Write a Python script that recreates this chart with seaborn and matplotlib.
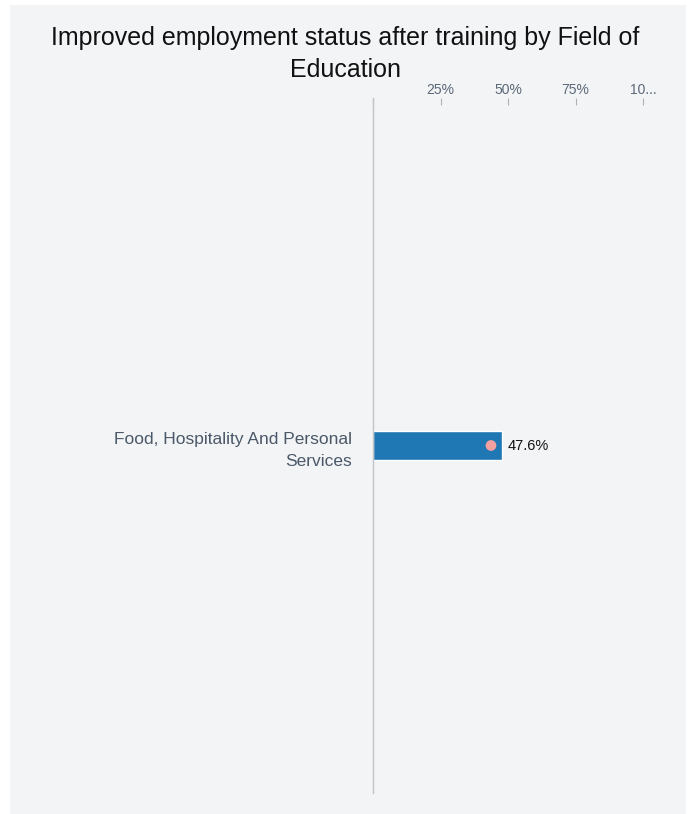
import matplotlib
matplotlib.use("Agg")
import matplotlib.pyplot as plt
import seaborn as sns
import pandas as pd
from matplotlib.patches import Rectangle

categories = ["Food, Hospitality And Personal\nServices"]
values = [47.6]
markers = [43.7]
tick_vals = [0, 25, 50, 75, 100]
tick_labels = ["", "25%", "50%", "75%", "10..."]
title_lines = ["Improved employment status after training by Field of", "Education"]

sns.set_theme(style="white")
plt.rcParams['font.family'] = ['Liberation Sans', 'DejaVu Sans']

W, H = 691, 814
fig = plt.figure(figsize=(W / 100, H / 100), dpi=100, facecolor="white")
bg = "#f3f4f6"
fig.patches.append(Rectangle((10 / W, 0), 676 / W, 1 - 5 / H, transform=fig.transFigure,
                             facecolor=bg, edgecolor="none", zorder=-10))

ax = fig.add_axes([373 / W, 1 - 793 / H, 270 / W, 695 / H])
ax.set_facecolor(bg)
ax.patch.set_alpha(0)

df = pd.DataFrame({"cat": categories, "val": values, "mk": markers})
sns.barplot(data=df, x="val", y="cat", color="#1f77b4", saturation=1, width=0.042, ax=ax)
sns.scatterplot(data=df, x="mk", y="cat", color="#f4a0a0", s=60, edgecolor="none", ax=ax, zorder=5)

for v, c in zip(values, categories):
    ax.text(v + 2.2, 0, f"{v}%", va="center", ha="left", fontsize=10.5, color="#111111")

ax.set_xlim(0, 100)
ax.set_ylim(0.5, -0.5)
ax.xaxis.tick_top()
ax.set_xticks(tick_vals)
ax.set_xticklabels(tick_labels, fontsize=10, color="#5a6878")
ax.tick_params(axis="x", direction="in", length=5, width=0.8, color="#aab2ba", pad=1,
               top=True, bottom=False)
ax.tick_params(axis="y", length=0, pad=15)
for lab in ax.get_yticklabels():
    lab.set_fontsize(12.5)
    lab.set_color("#4a5868")
    lab.set_ha("right")
    lab.set_linespacing(1.6)
ax.set_xlabel("")
ax.set_ylabel("")
for s in ["top", "right", "bottom"]:
    ax.spines[s].set_visible(False)
ax.spines["left"].set_color("#c0c4c8")
ax.spines["left"].set_linewidth(1)

for line, yc in zip(title_lines, [38, 70]):
    fig.text(345 / W, 1 - yc / H, line, ha="center", va="center", fontsize=18, color="#111111")

fig.savefig("out.png", dpi=100, facecolor="white")
